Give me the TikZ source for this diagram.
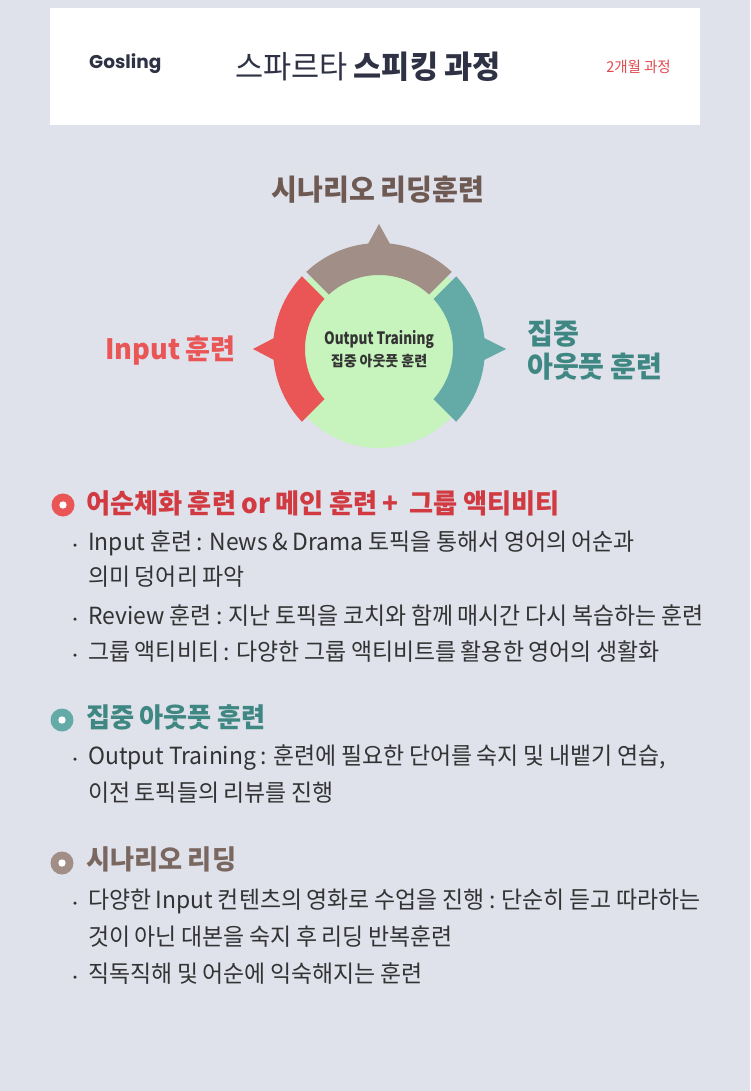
\documentclass[tikz,border=0pt]{standalone}
\usepackage{fontspec}
\setmainfont{Noto Sans CJK KR}[FakeStretch=0.97, WordSpace=0.9]
\newfontfamily\tightfont{Noto Sans CJK KR}[FakeStretch=0.8]
\newfontfamily\gosfont{Poppins}
\usetikzlibrary{calc}

\definecolor{bgcol}{HTML}{DFE1EB}
\definecolor{ringbrown}{HTML}{A18F87}
\definecolor{ringred}{HTML}{EA5556}
\definecolor{ringteal}{HTML}{64ABA8}
\definecolor{ringgreen}{HTML}{C7F3BD}
\definecolor{textdark}{HTML}{333333}
\definecolor{titledark}{HTML}{2F3244}
\definecolor{labelbrown}{HTML}{6E5A52}
\definecolor{labelteal}{HTML}{3F8782}
\definecolor{headred}{HTML}{D13A40}
\definecolor{headbrown}{HTML}{7A6860}
\definecolor{subred}{HTML}{E04A4E}

\tikzset{
  cyclelabel/.style={inner sep=0pt, font=\bfseries\fontsize{29}{34}\selectfont},
  headtext/.style={anchor=west, inner sep=0pt, text height=21pt, text depth=2pt,
    font=\bfseries\fontsize{27}{32}\selectfont},
  linetext/.style={anchor=west, inner sep=0pt, text=textdark, text height=18.5pt, text depth=2pt,
    font=\fontsize{23.6}{28}\selectfont},
  bulletdot/.style={circle, fill=textdark, minimum size=3.5pt, inner sep=0pt},
  icon/.style={circle, minimum size=23pt, inner sep=0pt,
    path picture={\fill[white] (path picture bounding box.center) circle (3.7pt);}}
}

\begin{document}
\begin{tikzpicture}[x=1pt, y=-1pt]
    % page and header card
    \useasboundingbox (0,0) rectangle (750,1091);
    \fill[bgcol] (0,0) rectangle (750,1091);
    \fill[white] (50,8) rectangle (700,125);

    % header texts
    \node[font=\gosfont\bfseries\fontsize{18.5}{22}\selectfont, text=titledark, anchor=west, inner sep=0pt] (brand) at (89,64) {Gosling};
    \node[font=\fontsize{31.5}{36}\selectfont, text=titledark, inner sep=0pt] (title) at (368,67) {스파르타 \textbf{스피킹 과정}};
    \node[font=\fontsize{15}{18}\selectfont, text=subred, anchor=east, inner sep=0pt] (term) at (671,67) {2개월 과정};

    % the cycle (origin at its centre, y pointing up)
    \begin{scope}[shift={(379,349)}, y=1pt]
        \fill[ringgreen] (0,0) circle (99);
        % top segment
        \fill[ringbrown] (45:74) -- (45:106) arc (45:135:106) -- (135:74) arc (135:45:74) -- cycle;
        \fill[ringbrown] (-11,105) -- (0,125) -- (11,105) -- cycle;
        % left segment
        \fill[ringred] (135:74) -- (135:106) arc (135:225:106) -- (225:74) arc (225:135:74) -- cycle;
        \fill[ringred] (-105,11) -- (-126,0) -- (-105,-11) -- cycle;
        % right segment
        \fill[ringteal] (-45:74) -- (-45:106) arc (-45:45:106) -- (45:74) arc (45:-45:74) -- cycle;
        \fill[ringteal] (105,11) -- (127,0) -- (105,-11) -- cycle;
        % the gaps between the segments
        \draw[bgcol, line width=6] (45:99.5) -- (45:112);
        \draw[bgcol, line width=6] (135:99.5) -- (135:112);
        \draw[bgcol, line width=6] (225:99.5) -- (225:112);
        \draw[bgcol, line width=6] (-45:99.5) -- (-45:112);
        \draw[ringgreen, line width=6] (45:60) -- (45:99.5);
        \draw[ringgreen, line width=6] (135:60) -- (135:99.5);
        \draw[ringgreen, line width=6] (225:60) -- (225:99.5);
        \draw[ringgreen, line width=6] (-45:60) -- (-45:99.5);
    \end{scope}

    % the texts round the cycle
    \node[cyclelabel, text=labelbrown] (scen) at (378,190) {시나리오 리딩훈련};
    \node[cyclelabel, text=ringred, anchor=east, font=\bfseries\fontsize{28}{34}\selectfont] (inp) at (236,351) {Input 훈련};
    \node[cyclelabel, text=labelteal, anchor=west] (focus1) at (527,334) {집중};
    \node[cyclelabel, text=labelteal, anchor=west] (focus2) at (527,367) {아웃풋 훈련};
    \node[inner sep=0pt, text=textdark, font=\tightfont\bfseries\fontsize{17}{20}\selectfont] (core1) at (379,339) {Output Training};
    \node[inner sep=0pt, text=textdark, font=\bfseries\fontsize{14.5}{18}\selectfont] (core2) at (379,361) {집중 아웃풋 훈련};

    % first section
    \node[icon, fill=ringred] (ic1) at (63,505) {};
    \node[headtext, text=headred] (h1) at (86,503.5) {어순체화 훈련 or 메인 훈련 +~ 그룹 액티비티};
    \node[bulletdot] (d11) at (75,545) {};
    \node[linetext] (l11) at (88,542) {Input 훈련 : News \& Drama 토픽을 통해서 영어의 어순과};
    \node[linetext] (l12) at (88,577) {의미 덩어리 파악};
    \node[bulletdot] (d13) at (75,619) {};
    \node[linetext] (l13) at (88,616) {Review 훈련 : 지난 토픽을 코치와 함께 매시간 다시 복습하는 훈련};
    \node[bulletdot] (d14) at (75,655) {};
    \node[linetext] (l14) at (88,652) {그룹 액티비티 : 다양한 그룹 액티비트를 활용한 영어의 생활화};

    % second section
    \node[icon, fill=ringteal] (ic2) at (62,720) {};
    \node[headtext, text=labelteal] (h2) at (86,718) {집중 아웃풋 훈련};
    \node[bulletdot] (d21) at (75,759) {};
    \node[linetext] (l21) at (88,756) {Output Training : 훈련에 필요한 단어를 숙지 및 내뱉기 연습,};
    \node[linetext] (l22) at (88,793) {이전 토픽들의 리뷰를 진행};

    % third section
    \node[icon, fill=ringbrown] (ic3) at (62,863) {};
    \node[headtext, text=headbrown] (h3) at (86,860) {시나리오 리딩};
    \node[bulletdot] (d31) at (75,903) {};
    \node[linetext] (l31) at (88,900) {다양한 Input 컨텐츠의 영화로 수업을 진행 : 단순히 듣고 따라하는};
    \node[linetext] (l32) at (88,937) {것이 아닌 대본을 숙지 후 리딩 반복훈련};
    \node[bulletdot] (d33) at (75,977) {};
    \node[linetext] (l33) at (88,974) {직독직해 및 어순에 익숙해지는 훈련};
\end{tikzpicture}
\end{document}
